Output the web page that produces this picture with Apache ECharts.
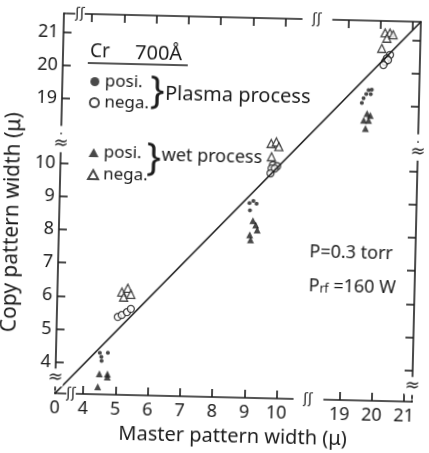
<!DOCTYPE html>
<html>
<head>
<meta charset="utf-8">
<script src="https://cdn.jsdelivr.net/npm/echarts@6/dist/echarts.min.js"></script>
<style>
html, body { margin: 0; padding: 0; background: #fff; overflow: hidden; }
/* the scanned figure sits a little crooked on the page */
#main { width: 429px; height: 453px; transform: rotate(1.35deg); transform-origin: 214px 226px; }
</style>
</head>
<body>
<div id="main"></div>
<script>
// master width vs copy width (μ)
var plasmaPosi = [[4.49, 4.30], [4.74, 4.31], [4.54, 4.18], [4.55, 4.06],
  [9.02, 8.93], [9.14, 9.00], [9.24, 8.91], [9.04, 8.71],
  [19.68, 19.46], [19.78, 19.48], [19.61, 19.34], [19.75, 19.34], [19.53, 19.21], [19.48, 19.07]];
var plasmaNega = [[5.02, 5.40], [5.14, 5.46], [5.30, 5.55], [5.42, 5.65],
  [9.72, 10.09], [9.85, 10.06], [9.68, 9.99], [9.78, 9.99], [9.65, 9.84],
  [20.32, 20.54], [20.22, 20.43], [20.17, 20.33], [20.26, 20.38], [20.12, 20.23]];
var wetPosi = [[4.49, 3.67], [4.74, 3.67], [4.74, 3.58], [4.45, 3.28],
  [9.14, 8.40], [9.23, 8.27], [9.28, 8.12], [9.05, 7.97], [9.08, 7.82],
  [19.65, 18.75], [19.75, 18.70], [19.55, 18.55], [19.70, 18.55], [19.61, 18.30]];
var wetNega = [[5.13, 6.15], [5.31, 6.27], [5.19, 6.00], [5.41, 6.09],
  [9.65, 10.74], [9.81, 10.79], [9.89, 10.65], [9.67, 10.34],
  [20.15, 21.20], [20.30, 21.20], [20.21, 21.04], [20.40, 21.15], [20.06, 20.73]];

var xMax = 21.25, yMax = 21.56;
var xTicks = [4, 5, 6, 7, 8, 9, 10, 19, 20, 21];
var xLabels = [0, 4, 5, 6, 7, 8, 9, 10, 19, 20, 21];
var yTicks = [4, 5, 6, 7, 8, 9, 10, 19, 20, 21];
// broken axes
var xBreaks = [{ start: 0.05, end: 3.2, gap: 0.02 }, { start: 10.5, end: 18.5, gap: 0.95 }];
var yBreaks = [{ start: 0.05, end: 3.15, gap: 0.05 }, { start: 10.9, end: 18.2, gap: 0.26 }];
// ideal copy = master line, drawn corner to corner
var idealLine = [[0, 0], [xMax, yMax]];

var ink = '#1c1c1c';
var font = 'Noto Sans';
var chart = echarts.init(document.getElementById('main'));

function xAxisOpt(pos, labels) {
  return {
    type: 'value', position: pos, min: 0, max: xMax,
    breaks: xBreaks, breakArea: { show: false },
    axisLine: { show: true, onZero: false, lineStyle: { color: ink, width: 1.6 } },
    axisTick: { show: true, inside: true, length: 8, customValues: xTicks, lineStyle: { color: ink, width: 1.6 } },
    axisLabel: { show: labels, customValues: xLabels, color: ink, fontSize: 18, fontFamily: font, margin: 6 },
    splitLine: { show: false }
  };
}
function yAxisOpt(pos, labels) {
  return {
    type: 'value', position: pos, min: 0, max: yMax,
    breaks: yBreaks, breakArea: { show: false },
    axisLine: { show: true, onZero: false, lineStyle: { color: ink, width: 1.6 } },
    axisTick: { show: true, inside: true, length: 8, customValues: yTicks, lineStyle: { color: ink, width: 1.6 } },
    axisLabel: { show: labels, customValues: yTicks, color: ink, fontSize: 18, fontFamily: font, margin: 5 },
    splitLine: { show: false }
  };
}

var xa = xAxisOpt('bottom', true);
xa.name = 'Master pattern width (μ)';
xa.nameLocation = 'middle';
xa.nameGap = 29;
xa.nameTextStyle = { color: ink, fontSize: 20, fontFamily: font };
var ya = yAxisOpt('left', true);
ya.name = 'Copy pattern width (μ)';
ya.nameLocation = 'middle';
ya.nameGap = 25;
ya.nameTextStyle = { color: ink, fontSize: 21, fontFamily: font, padding: [0, 40, 0, 0] };

function txt(id, x, y, s, size) {
  return { type: 'text', id: id, x: x, y: y, style: { text: s, fontSize: size, fontFamily: font, fill: ink, verticalAlign: 'middle' } };
}

var option = {
  animation: false,
  grid: { left: 59, right: 13, top: 17, bottom: 56, outerBoundsMode: 'none' },
  xAxis: [xa, xAxisOpt('top', false)],
  yAxis: [ya, yAxisOpt('right', false)],
  legend: [{
    data: ['Plasma posi.', 'Plasma nega.'], orient: 'vertical', left: 81, top: 71,
    itemWidth: 10, itemHeight: 9, itemGap: 4,
    formatter: function (n) { return n.split(' ')[1]; },
    textStyle: { color: ink, fontSize: 17, fontFamily: font }
  }, {
    data: ['Wet posi.', 'Wet nega.'], orient: 'vertical', left: 81, top: 142,
    itemWidth: 10, itemHeight: 9, itemGap: 5,
    formatter: function (n) { return n.split(' ')[1]; },
    textStyle: { color: ink, fontSize: 17, fontFamily: font }
  }],
  graphic: [
    txt('cr', 86, 55, 'Cr', 19),
    txt('ang', 131, 55, '700Å', 20),
    { type: 'line', id: 'ul', shape: { x1: 84, y1: 66, x2: 184, y2: 66 }, style: { stroke: ink, lineWidth: 1.6 } },
    txt('br1', 147, 93, '}', 38),
    txt('plasma', 162, 95, 'Plasma process', 20),
    txt('br2', 145, 160, '}', 38),
    txt('wet', 160, 157, 'wet process', 18),
    txt('p', 310, 250, 'P=0.3 torr', 18),
    { type: 'text', id: 'prf', x: 310, y: 284, style: {
      text: '{a|P}{b|rf}{a| =160 W}', fill: ink, verticalAlign: 'middle',
      rich: { a: { fontSize: 18, fontFamily: font, fill: ink }, b: { fontSize: 12, fontFamily: font, fill: ink, verticalAlign: 'bottom' } }
    } }
  ],
  series: [{
    name: 'ideal', type: 'line', data: idealLine, symbol: 'none', silent: true,
    lineStyle: { color: ink, width: 1.6 }
  }, {
    name: 'Plasma posi.', type: 'scatter', data: plasmaPosi, symbol: 'circle', symbolSize: 4,
    itemStyle: { color: ink }
  }, {
    name: 'Plasma nega.', type: 'scatter', data: plasmaNega, symbol: 'circle', symbolSize: 7,
    itemStyle: { color: '#fff', borderColor: ink, borderWidth: 1.3 }
  }, {
    name: 'Wet posi.', type: 'scatter', data: wetPosi, symbol: 'triangle', symbolSize: 7,
    itemStyle: { color: ink }
  }, {
    name: 'Wet nega.', type: 'scatter', data: wetNega, symbol: 'triangle', symbolSize: 8,
    itemStyle: { color: '#fff', borderColor: ink, borderWidth: 1.3 }
  }]
};
chart.setOption(option);

// hand-drawn break marks on the four axis lines, placed from the axes
var gTop = 17, gBottom = 453 - 56, gLeft = 59, gRight = 429 - 13;
var p4 = chart.convertToPixel({ xAxisIndex: 0, yAxisIndex: 0 }, [4, 4]);
var p10 = chart.convertToPixel({ xAxisIndex: 0, yAxisIndex: 0 }, [10, 10.6]);
var p19 = chart.convertToPixel({ xAxisIndex: 0, yAxisIndex: 0 }, [19, 19]);
var marks = [];
[(gLeft + p4[0]) / 2 + 2, (p10[0] + p19[0]) / 2].forEach(function (x, i) {
  [gBottom, gTop].forEach(function (y, j) {
    marks.push({ type: 'text', id: 'bx' + i + j, x: x, y: y, z: 10, style: { text: 'ʃʃ', fontSize: 14, fontFamily: 'DejaVu Sans', fill: ink, align: 'center', verticalAlign: 'middle', backgroundColor: '#fff' } });
  });
});
[(gBottom + p4[1]) / 2, p10[1]].forEach(function (y, i) {
  [gLeft, gRight].forEach(function (x, j) {
    marks.push({ type: 'text', id: 'by' + i + j, x: x, y: y, z: 10, style: { text: '≈', fontSize: 18, fontFamily: 'DejaVu Sans', fill: ink, align: 'center', verticalAlign: 'middle', backgroundColor: '#fff' } });
  });
});
chart.setOption({ graphic: marks });
</script>
</body>
</html>
